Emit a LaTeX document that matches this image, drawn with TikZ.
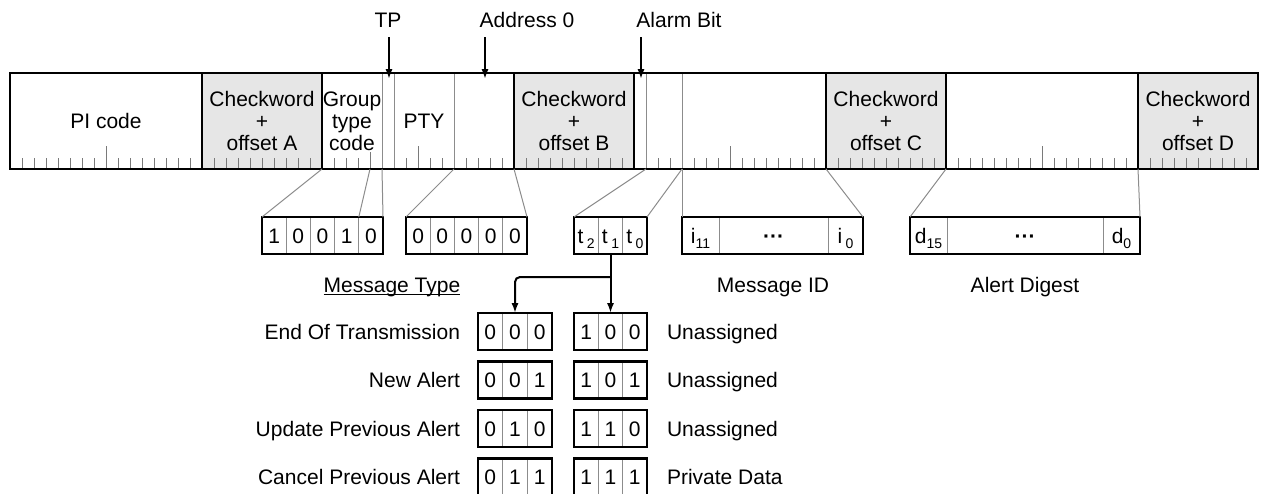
\documentclass[tikz,border=0pt]{standalone}
\usepackage{fontspec}
\setmainfont{Liberation Sans}
\usetikzlibrary{arrows.meta}
\definecolor{cwfill}{HTML}{E6E6E6}
\definecolor{finec}{HTML}{8C8C8C}
\definecolor{tickc}{HTML}{7A7A7A}
\newcommand\sbs[1]{\raisebox{-0.45ex}{\fontsize{7pt}{8pt}\selectfont #1}}
\begin{document}
\begin{tikzpicture}[x=0.5pt,y=-0.5pt,
  every node/.style={font=\fontsize{10.5pt}{11pt}\selectfont, inner sep=0pt, outer sep=0pt},
  field/.style={anchor=north west, minimum height=48pt, align=center},
  cwbox/.style={field, fill=cwfill, draw=black, line width=1pt},
  fineline/.style={draw=finec, line width=0.5pt},
  tickline/.style={draw=tickc, line width=0.5pt},
  fan/.style={draw=finec, line width=0.5pt},
  cell/.style={draw=finec, line width=0.5pt, minimum height=18.5pt, text height=7.5pt, text depth=0pt},
  bitbox/.style={draw=black, line width=1.1pt, minimum height=18.5pt},
  lbl/.style={text height=7.5pt, text depth=0pt},
  arr/.style={line width=1pt, -{Latex[length=5pt,width=3.6pt]}},
]
\path[use as bounding box] (0,0) rectangle (1261,493);
\clip (0,0) rectangle (1261,493);

% ---- the group bar ----
\node[field, minimum width=96pt] (pi) at (10,73) {PI code};
\node[cwbox, minimum width=60pt] (cwA) at (202,73) {Checkword\\+\\offset A};
\node[field, minimum width=30pt] (gtc) at (322,73) {Group\\type\\code};
\node[field, minimum width=6pt] (tp) at (382,73) {};
\node[field, minimum width=30pt] (pty) at (394,73) {PTY};
\node[field, minimum width=30pt] (adr) at (454,73) {};
\node[cwbox, minimum width=60pt] (cwB) at (514,73) {Checkword\\+\\offset B};
\node[field, minimum width=6pt] (alarm) at (634,73) {};
\node[field, minimum width=18pt] (mt) at (646,73) {};
\node[field, minimum width=72pt] (mid) at (682,73) {};
\node[cwbox, minimum width=60pt] (cwC) at (826,73) {Checkword\\+\\offset C};
\node[field, minimum width=96pt] (dig) at (946,73) {};
\node[cwbox, minimum width=60pt] (cwD) at (1138,73) {Checkword\\+\\offset D};

\foreach \i in {1,...,103}{
  \pgfmathtruncatemacro\m{mod(\i,26)}
  \ifnum\m=0 \else \ifnum\m=16 \else
    \ifnum\m=8 \def\tlen{23}\else\ifnum\i=30 \def\tlen{17}\else\def\tlen{11}\fi\fi
    \draw[tickline] (10+12*\i,169) -- ++(0,-\tlen);
  \fi\fi
}
\foreach \f in {gtc,tp,pty,alarm,mt}
  \draw[fineline] (\f.north east) -- (\f.south east);
\foreach \f in {cwA,cwB,cwC,cwD}
  \draw[line width=1pt] (\f.north west) rectangle (\f.south east);
\draw[line width=1pt] (pi.north west) rectangle (cwD.south east);

% ---- labels with arrows above ----
\node[lbl] (tpl) at (388,20) {TP};
\node[lbl] (adl) at (527,20) {Address 0};
\node[lbl] (all) at (679,20) {Alarm Bit};
\coordinate (tps) at (389,37);  \coordinate (tpe) at (389,79);
\coordinate (ads) at (485,37);  \coordinate (ade) at (485,79);
\coordinate (als) at (641,37);  \coordinate (ale) at (641,79);
\draw[arr] (tps) -- (tpe);
\draw[arr] (ads) -- (ade);
\draw[arr] (als) -- (ale);

% ---- expanded bit boxes ----
\foreach \k/\v [count=\c] in {274.1/1,298.3/0,322.5/0,346.7/1,370.9/0}
  \node[cell, minimum width=12.1pt] (b1-\c) at (\k,235.5) {\v};
\node[bitbox, minimum width=60.5pt] (b1) at (322.5,235.5) {};

\foreach \k/\v [count=\c] in {418.1/0,442.3/0,466.5/0,490.7/0,514.9/0}
  \node[cell, minimum width=12.1pt] (b2-\c) at (\k,235.5) {\v};
\node[bitbox, minimum width=60.5pt] (b2) at (466.5,235.5) {};

\node[cell, minimum width=12.17pt] (b3-1) at (586.2,235.5) {t\,\sbs{2}};
\node[cell, minimum width=12.17pt] (b3-2) at (610.5,235.5) {t\,\sbs{1}};
\node[cell, minimum width=12.17pt] (b3-3) at (634.8,235.5) {t\,\sbs{0}};
\node[bitbox, minimum width=36.5pt] (b3) at (610.5,235.5) {};

\node[cell, minimum width=18.5pt] (b4-1) at (700.5,235.5) {i\sbs{11}};
\node[cell, minimum width=54.5pt] (b4-2) at (773.5,235.5) {\bfseries ···};
\node[cell, minimum width=17.5pt] (b4-3) at (845.5,235.5) {i\,\sbs{0}};
\node[bitbox, minimum width=90.5pt] (b4) at (772.5,235.5) {};

\node[cell, minimum width=18.5pt] (b5-1) at (928.5,235.5) {d\sbs{15}};
\node[cell, minimum width=78pt] (b5-2) at (1025,235.5) {\bfseries ···};
\node[cell, minimum width=18.5pt] (b5-3) at (1121.5,235.5) {d\sbs{0}};
\node[bitbox, minimum width=115pt] (b5) at (1025,235.5) {};

% ---- fan lines ----
\coordinate (gB0) at (370,169);
\draw[fan] (gtc.south west) -- (b1.north west);
\draw[fan] (gB0) -- (b1-4.north east);
\draw[fan] (gtc.south east) -- (b1.north east);
\draw[fan] (adr.south west) -- (b2.north west);
\draw[fan] (adr.south east) -- (b2.north east);
\draw[fan] (mt.south west) -- (b3.north west);
\draw[fan] (mt.south east) -- (b3.north east);
\draw[fan] (mid.south west) -- (b4.north west);
\draw[fan] (mid.south east) -- (b4.north east);
\draw[fan] (dig.south west) -- (b5.north west);
\draw[fan] (dig.south east) -- (b5.north east);

% ---- captions ----
\node[lbl] (mtl) at (392,285) {Message Type};
\draw[line width=0.6pt] ([yshift=-1pt]mtl.south west) -- ([yshift=-1pt]mtl.south east);
\node[lbl] (mil) at (773,285) {Message ID};
\node[lbl] (adg) at (1025,285) {Alert Digest};

% ---- message type table ----
\foreach \r/\y/\lab/\rlab/\p/\q in {1/331.5/End Of Transmission/Unassigned/0/0,
    2/380/New Alert/Unassigned/0/1,
    3/428.5/Update Previous Alert/Unassigned/1/0,
    4/477/Cancel Previous Alert/Private Data/1/1}{
  \node[cell, minimum width=12.33pt] (L\r-1) at (490.3,\y) {0};
  \node[cell, minimum width=12.33pt] (L\r-2) at (515,\y) {\p};
  \node[cell, minimum width=12.33pt] (L\r-3) at (539.7,\y) {\q};
  \node[bitbox, minimum width=37pt] (L\r) at (515,\y) {};
  \node[cell, minimum width=12.17pt] (R\r-1) at (586.2,\y) {1};
  \node[cell, minimum width=12.17pt] (R\r-2) at (610.5,\y) {\p};
  \node[cell, minimum width=12.17pt] (R\r-3) at (634.8,\y) {\q};
  \node[bitbox, minimum width=36.5pt] (R\r) at (610.5,\y) {};
  \node[lbl, anchor=east] (LN\r) at (460,\y) {\lab};
  \node[lbl, anchor=west] (RN\r) at (667,\y) {\rlab};
}

% ---- t1 arrows ----
\coordinate (split) at (610.5,277);
\draw[arr] (b3-2.south) -- (R1-2.north);
\draw[arr, rounded corners=2.5pt] (split) -| (L1-2.north);
\end{tikzpicture}
\end{document}
